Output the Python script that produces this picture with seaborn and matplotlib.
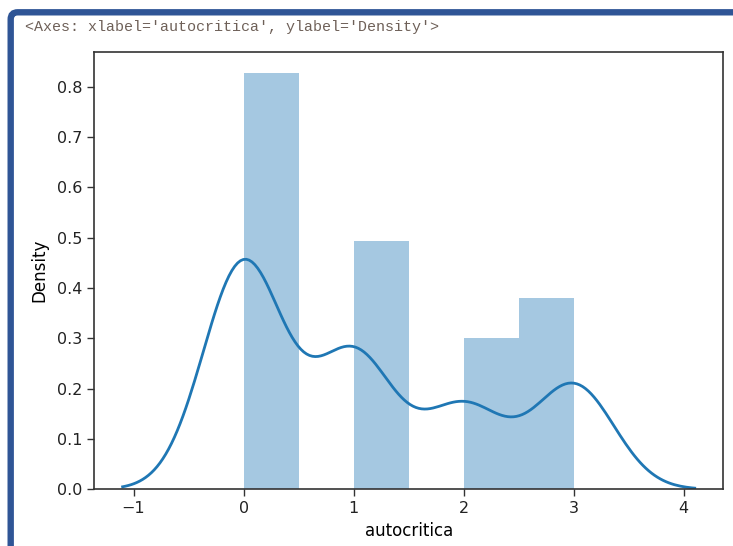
import numpy as np
import pandas as pd
import matplotlib
matplotlib.use("Agg")
import matplotlib.pyplot as plt
from matplotlib.patches import FancyBboxPatch
from matplotlib.transforms import IdentityTransform
import seaborn as sns

# Data: score values and how many times each occurs
score_values = [0, 1, 2, 3]
score_counts = [124, 74, 45, 57]
x_ticks = [-1, 0, 1, 2, 3, 4]
y_ticks = [0.0, 0.1, 0.2, 0.3, 0.4, 0.5, 0.6, 0.7, 0.8]

autocritica = pd.Series(np.repeat(score_values, score_counts), name="autocritica")

W, H = 733, 546
fig = plt.figure(figsize=(W / 100, H / 100), dpi=100)
fig.patch.set_facecolor("white")

# Jupyter-like frame
frame = FancyBboxPatch((10.7, -60), 800, (H - 12.3) + 60,
                       boxstyle="round,pad=0,rounding_size=7",
                       transform=IdentityTransform(), fill=False,
                       edgecolor="#2f5596", linewidth=4.6, clip_on=False)
fig.add_artist(frame)

fig.text(25 / W, 1 - 26.5 / H, "<Axes: xlabel='autocritica', ylabel='Density'>",
         family="Liberation Mono", fontsize=10.8, color="#6e6058",
         va="center", ha="left")

ax = fig.add_axes([94 / W, 1 - 489.3 / H, (723.3 - 94) / W, (489.3 - 52.3) / H])

blue = "#1f77b4"
sns.histplot(x=autocritica, bins=6, binrange=(0, 3), stat="density",
             color=blue, alpha=0.4, linewidth=0, ax=ax)
sns.kdeplot(x=autocritica, color=blue, linewidth=2.0, ax=ax)

ax.set_xticks(x_ticks)
ax.set_xticklabels(["\u22121", "0", "1", "2", "3", "4"])
ax.set_yticks(y_ticks)
ax.set_yticklabels([f"{v:.1f}" for v in y_ticks])
ax.set_xlabel("autocritica", fontsize=12, labelpad=4)
ax.set_ylabel("Density", fontsize=12, labelpad=6)
ax.tick_params(axis="both", labelsize=11.5, length=5, width=1.0, color="#333333",
               labelcolor="#222222")
for s in ax.spines.values():
    s.set_linewidth(1.2)
    s.set_color("#333333")

fig.savefig("out.png", dpi=100)
